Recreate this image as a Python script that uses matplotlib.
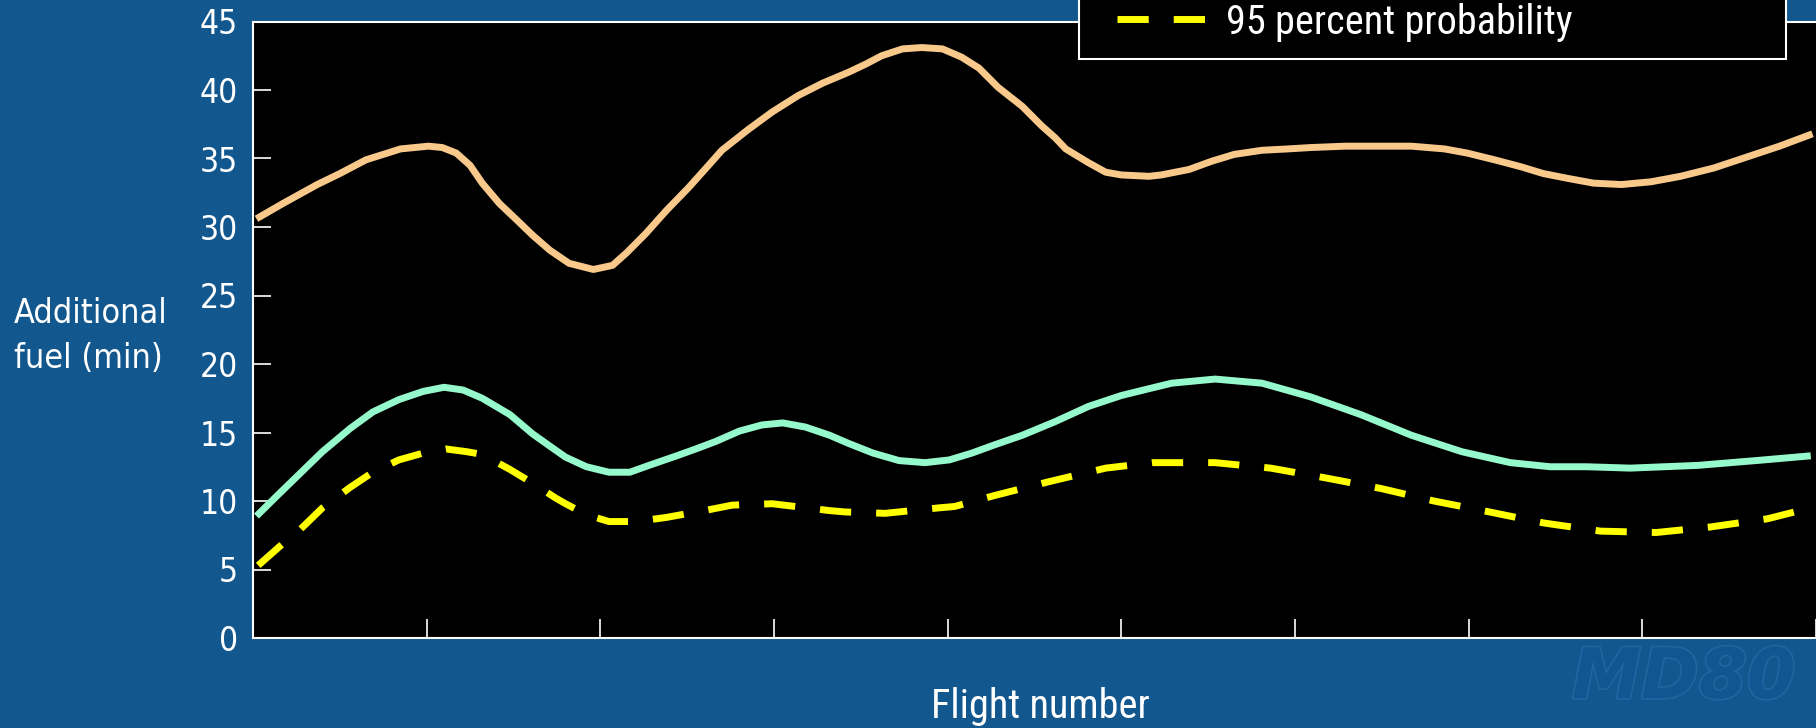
import matplotlib
matplotlib.use("Agg")
import matplotlib.pyplot as plt
from matplotlib import font_manager as fm
from matplotlib.font_manager import FontProperties
from matplotlib.patches import Rectangle
import matplotlib.patheffects as pe

# ---------------- data ----------------
orange_x = [0.02, 0.17, 0.37, 0.50, 0.65, 0.85, 1.01, 1.09, 1.17, 1.25, 1.32, 1.42, 1.52, 1.61,
            1.71, 1.82, 1.96, 2.07, 2.15, 2.26, 2.38, 2.51, 2.63, 2.70, 2.85, 2.99, 3.14, 3.28,
            3.43, 3.53, 3.62, 3.74, 3.85, 3.97, 4.08, 4.18, 4.29, 4.43, 4.54, 4.62, 4.68, 4.81,
            4.91, 5.00, 5.16, 5.23, 5.39, 5.52, 5.65, 5.81, 5.96, 6.09, 6.29, 6.48, 6.67, 6.86,
            6.99, 7.15, 7.30, 7.43, 7.57, 7.72, 7.88, 8.05, 8.22, 8.41, 8.60, 8.79, 8.98]
orange_y = [30.6, 31.7, 33.1, 33.9, 34.9, 35.7, 35.9, 35.8, 35.4, 34.5, 33.2, 31.7, 30.5, 29.4,
            28.3, 27.35, 26.9, 27.2, 28.1, 29.5, 31.2, 32.9, 34.6, 35.6, 37.1, 38.4, 39.6, 40.5,
            41.3, 41.9, 42.5, 43.0, 43.1, 43.0, 42.4, 41.6, 40.2, 38.8, 37.4, 36.5, 35.7, 34.7,
            34.0, 33.8, 33.7, 33.8, 34.2, 34.8, 35.3, 35.6, 35.7, 35.8, 35.9, 35.9, 35.9, 35.7,
            35.4, 34.9, 34.4, 33.9, 33.55, 33.2, 33.1, 33.3, 33.7, 34.3, 35.1, 35.9, 36.8]

green_x = [0.02, 0.14, 0.27, 0.40, 0.56, 0.69, 0.84, 0.98, 1.10, 1.21, 1.32, 1.48, 1.61, 1.71,
           1.80, 1.92, 2.05, 2.17, 2.28, 2.44, 2.55, 2.665, 2.80, 2.93, 3.05, 3.18, 3.32, 3.43,
           3.57, 3.72, 3.87, 4.01, 4.14, 4.27, 4.43, 4.62, 4.81, 5.00, 5.16, 5.29, 5.54, 5.81,
           6.09, 6.38, 6.67, 6.96, 7.24, 7.47, 7.68, 7.93, 8.32, 8.70, 8.97]
green_y = [8.9, 10.4, 12.0, 13.6, 15.3, 16.5, 17.4, 18.0, 18.3, 18.1, 17.5, 16.3, 14.9, 14.0,
           13.2, 12.5, 12.1, 12.1, 12.6, 13.3, 13.8, 14.35, 15.1, 15.55, 15.7, 15.4, 14.8, 14.2,
           13.5, 12.95, 12.8, 13.0, 13.5, 14.1, 14.8, 15.8, 16.9, 17.7, 18.2, 18.6, 18.9, 18.6,
           17.6, 16.3, 14.8, 13.6, 12.8, 12.5, 12.5, 12.4, 12.6, 13.0, 13.3]

yellow_x = [0.03, 0.155, 0.27, 0.40, 0.56, 0.69, 0.84, 0.98, 1.11, 1.23, 1.32, 1.48, 1.61, 1.745,
            1.80, 1.92, 2.05, 2.205, 2.38, 2.51, 2.62, 2.76, 2.99, 3.32, 3.41, 3.64, 3.95, 4.04,
            4.27, 4.58, 4.91, 5.18, 5.54, 5.86, 6.17, 6.50, 6.80, 7.12, 7.43, 7.76, 8.08, 8.39,
            8.72, 8.97]
yellow_y = [5.3, 6.7, 7.9, 9.5, 11.0, 12.1, 13.0, 13.5, 13.8, 13.6, 13.4, 12.3, 11.3, 10.2,
            9.8, 9.0, 8.5, 8.5, 8.8, 9.1, 9.35, 9.7, 9.8, 9.3, 9.2, 9.1, 9.5, 9.6,
            10.4, 11.4, 12.4, 12.8, 12.8, 12.4, 11.7, 10.9, 10.0, 9.2, 8.4, 7.8, 7.7, 8.1,
            8.7, 9.5]

x_ticks = [1, 2, 3, 4, 5, 6, 7, 8, 9]
y_ticks = [0, 5, 10, 15, 20, 25, 30, 35, 40, 45]
y_label = "Additional\nfuel (min)"
x_label = "Flight number"
legend_label = "95 percent probability"
watermark = "MD80"

# ---------------- fonts ----------------
ttf = fm.fontManager.ttflist
names = {f.name for f in ttf}
if "Liberation Sans Narrow" in names:
    fp_narrow = FontProperties(family="Liberation Sans Narrow", size=30)
elif "Roboto Condensed" in names:
    fp_narrow = FontProperties(family="Roboto Condensed", size=29)
else:
    fp_narrow = FontProperties(family="DejaVu Sans", stretch="condensed", size=25)

if "DejaVu Sans Condensed" in names:
    cond = dict(family="DejaVu Sans Condensed")
elif any(f.name == "DejaVu Sans" and str(f.stretch) == "condensed" for f in ttf):
    cond = dict(family="DejaVu Sans", stretch="condensed")
else:
    cond = dict(family="DejaVu Sans")
fp_tick = FontProperties(size=24, **cond)
fp_ylab = FontProperties(size=24.5, **cond)

# ---------------- colours ----------------
BG = "#12588F"
ORANGE = "#F8C98B"
GREEN = "#96F9CB"
YELLOW = "#FFFF00"

W, H = 1816, 728
fig = plt.figure(figsize=(W / 100, H / 100), dpi=100, facecolor=BG)
ax = fig.add_axes([253 / W, 90 / H, (W - 253) / W, (638 - 21.5) / H])
ax.set_facecolor("black")

ax.plot(orange_x, orange_y, color=ORANGE, lw=5, solid_capstyle="butt", solid_joinstyle="round")
ax.plot(green_x, green_y, color=GREEN, lw=5, solid_capstyle="butt", solid_joinstyle="round")
yl, = ax.plot(yellow_x, yellow_y, color=YELLOW, lw=5, dashes=(4.5, 3.6),
              dash_capstyle="butt", dash_joinstyle="round")

ax.set_xlim(0, 9)
ax.set_ylim(0, 45)
ax.set_xticks(x_ticks)
ax.set_xticklabels([])
ax.set_yticks(y_ticks)
ax.set_yticklabels([str(v) for v in y_ticks])
for lbl in ax.get_yticklabels():
    lbl.set_fontproperties(fp_tick)
    lbl.set_color("white")
ax.tick_params(axis="x", direction="in", length=14, width=1.2, color="white")
ax.tick_params(axis="y", direction="in", length=13, width=1.2, color="white", pad=11)
for s in ["left", "bottom", "top"]:
    ax.spines[s].set_color("white")
    ax.spines[s].set_linewidth(1.5)
ax.spines["right"].set_visible(False)

# y label (left, horizontal, two lines)
fig.text(14 / W, 1 - 336 / H, y_label, ha="left", va="center", color="white",
         fontproperties=fp_ylab, linespacing=1.45)
# x label
fig.text(1040 / W, 1 - 718 / H, x_label, ha="center", va="baseline", color="white",
         fontproperties=fp_narrow)

# legend box (top cut off by the figure edge)
fig.add_artist(Rectangle((1079 / W, 1 - 59 / H), (1786 - 1079) / W, 0.2,
                         transform=fig.transFigure, facecolor="black",
                         edgecolor="white", lw=1.5, zorder=3))
leg = fig.legend([yl], [legend_label], loc="center left",
                 bbox_to_anchor=(1117 / W, 1 - 22 / H), frameon=False,
                 borderpad=0, borderaxespad=0, handlelength=2.2, handletextpad=0.5,
                 prop=fp_narrow, labelcolor="white")
leg.set_zorder(4)

# faint watermark (kept inside the figure)
fig.text(1572 / W, 1 - 698 / H, watermark, ha="left", va="baseline", color="#115690",
         fontsize=50, fontweight="bold", style="italic", family="DejaVu Sans",
         path_effects=[pe.withStroke(linewidth=2.5, foreground="#2264a0")])

fig.savefig("out.png", dpi=100, facecolor=BG)
